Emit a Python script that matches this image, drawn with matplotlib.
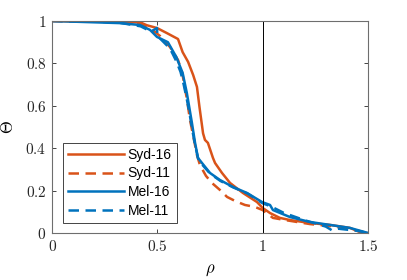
import numpy as np
import matplotlib
matplotlib.use("Agg")
import matplotlib.pyplot as plt
from matplotlib.ticker import FuncFormatter

plt.rcParams['mathtext.fontset'] = 'cm'

# ---- data (rho, Theta)
syd16_rho = [0, 0.37, 0.42, 0.45, 0.498, 0.545, 0.598, 0.62, 0.646, 0.67, 0.688,
             0.70, 0.717, 0.726, 0.74, 0.764, 0.774, 0.807, 0.845, 0.906, 0.973, 1.0,
             1.035, 1.082, 1.13, 1.224, 1.319, 1.414, 1.46, 1.495]
syd16_th = [1.0, 0.995, 0.993, 0.98, 0.967, 0.943, 0.915, 0.853, 0.807, 0.745, 0.689,
            0.594, 0.47, 0.439, 0.425, 0.354, 0.33, 0.283, 0.236, 0.189, 0.146, 0.118,
            0.094, 0.071, 0.061, 0.047, 0.038, 0.024, 0.005, 0.0]

syd11_rho = [0, 0.3, 0.418, 0.465, 0.513, 0.56, 0.598, 0.617, 0.631, 0.641, 0.655,
             0.674, 0.688, 0.702, 0.731, 0.759, 0.797, 0.831, 0.869, 0.916, 0.963,
             1.0, 1.049, 1.106, 1.224, 1.367, 1.46, 1.49]
syd11_th = [1.0, 0.995, 0.99, 0.967, 0.929, 0.877, 0.816, 0.759, 0.684, 0.627, 0.533,
            0.439, 0.368, 0.321, 0.269, 0.236, 0.203, 0.17, 0.151, 0.132, 0.123,
            0.108, 0.071, 0.061, 0.042, 0.028, 0.009, 0.0]

mel16_rho = [0, 0.323, 0.418, 0.465, 0.498, 0.55, 0.59, 0.62, 0.64, 0.652,
             0.664, 0.679, 0.693, 0.712, 0.75, 0.797, 0.859, 0.925, 0.997,
             1.035, 1.049, 1.13, 1.224, 1.319, 1.414, 1.5]
mel16_th = [1.0, 0.99, 0.981, 0.958, 0.925, 0.90, 0.83, 0.755, 0.66, 0.59,
            0.52, 0.425, 0.354, 0.33, 0.283, 0.25, 0.217, 0.189, 0.146,
            0.132, 0.108, 0.075, 0.052, 0.038, 0.024, 0.0]

mel11_rho = [0, 0.3, 0.42, 0.47, 0.498, 0.5, 0.53, 0.56, 0.59, 0.61, 0.625, 0.64,
             0.655, 0.665, 0.68, 0.695, 0.715, 0.75, 0.8, 0.86, 0.93, 1.0, 1.04,
             1.1, 1.2, 1.3, 1.33, 1.36, 1.45, 1.5]
mel11_th = [1.0, 0.995, 0.975, 0.95, 0.967, 0.93, 0.9, 0.87, 0.81, 0.76, 0.7, 0.63,
            0.55, 0.49, 0.41, 0.345, 0.32, 0.28, 0.245, 0.215, 0.185, 0.14, 0.125,
            0.095, 0.06, 0.03, 0.012, 0.02, 0.01, 0.0]

c_syd = "#D95319"
c_mel = "#0072BD"
dashed = (0, (4.2, 2.6))

fig = plt.figure(figsize=(4.07, 2.80), dpi=100)
ax = fig.add_axes([0.128, 0.168, 0.776, 0.757])

ax.plot(syd16_rho, syd16_th, color=c_syd, lw=1.8, ls='-', label="Syd-16")
ax.plot(syd11_rho, syd11_th, color=c_syd, lw=1.8, ls=dashed, label="Syd-11")
ax.plot(mel16_rho, mel16_th, color=c_mel, lw=1.8, ls='-', label="Mel-16")
ax.plot(mel11_rho, mel11_th, color=c_mel, lw=1.8, ls=dashed, label="Mel-11")

ax.axvline(1.0, color="black", lw=0.7)

ax.set_xlim(0, 1.5)
ax.set_ylim(0, 1)
ax.set_xticks([0, 0.5, 1, 1.5])
ax.set_yticks([0, 0.2, 0.4, 0.6, 0.8, 1])
fmt = FuncFormatter(lambda v, p: "$%g$" % v)
ax.xaxis.set_major_formatter(fmt)
ax.yaxis.set_major_formatter(fmt)
ax.tick_params(direction='in', top=True, right=True, length=3, width=0.6,
               labelsize=11, colors="#262626", pad=4)
for sp in ax.spines.values():
    sp.set_color("#6e6e6e")
    sp.set_linewidth(0.8)

ax.set_xlabel(r"$\rho$", fontsize=12, labelpad=5)
ax.set_ylabel(r"$\Theta$", fontsize=12, labelpad=6)

leg = ax.legend(loc='lower left', bbox_to_anchor=(0.035, 0.047), borderaxespad=0,
                prop={'family': 'Liberation Sans', 'size': 10}, handlelength=4.0,
                fancybox=False, framealpha=1, edgecolor="#262626",
                labelspacing=0.35, borderpad=0.35, handletextpad=0.3)
leg.get_frame().set_linewidth(0.6)

fig.savefig("out.png", dpi=100)
